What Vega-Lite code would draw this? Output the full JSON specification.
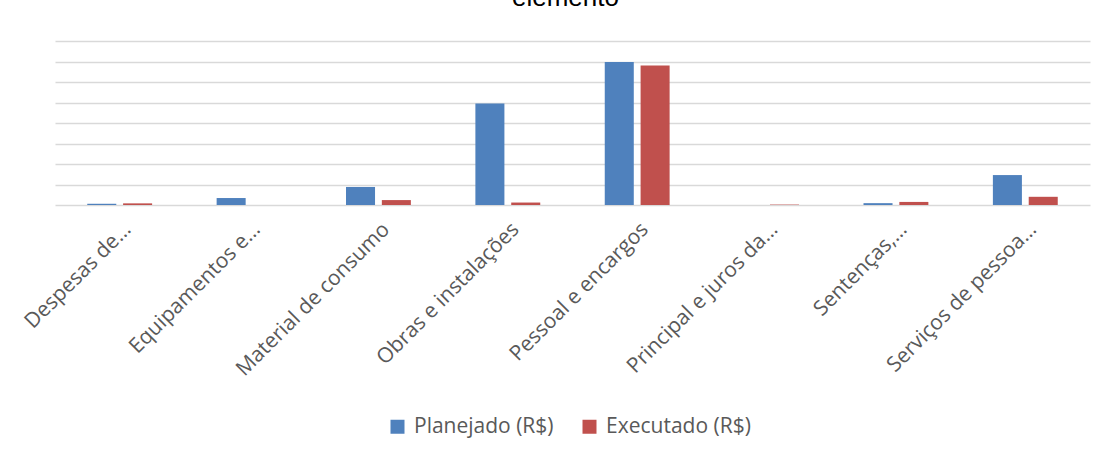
{
  "$schema": "https://vega.github.io/schema/vega-lite/v6.json",
  "width": 1035,
  "height": 164,
  "autosize": {"type": "none"},
  "padding": {"left": 55, "top": 41, "right": 17, "bottom": 253},
  "background": "white",
  "title": {
    "text": "elemento",
    "anchor": "middle",
    "frame": "group",
    "font": "Liberation Sans",
    "fontSize": 26,
    "fontWeight": "normal",
    "color": "#000000",
    "baseline": "alphabetic",
    "offset": 9,
    "dx": -7
  },
  "data": {
    "values": [
      {"categoria": "Despesas de…", "serie": "Planejado (R$)", "valor": 0.06},
      {"categoria": "Despesas de…", "serie": "Executado (R$)", "valor": 0.08},
      {"categoria": "Equipamentos e…", "serie": "Planejado (R$)", "valor": 0.34},
      {"categoria": "Equipamentos e…", "serie": "Executado (R$)", "valor": 0},
      {"categoria": "Material de consumo", "serie": "Planejado (R$)", "valor": 0.88},
      {"categoria": "Material de consumo", "serie": "Executado (R$)", "valor": 0.24},
      {"categoria": "Obras e instalações", "serie": "Planejado (R$)", "valor": 4.95},
      {"categoria": "Obras e instalações", "serie": "Executado (R$)", "valor": 0.12},
      {"categoria": "Pessoal e encargos", "serie": "Planejado (R$)", "valor": 6.98},
      {"categoria": "Pessoal e encargos", "serie": "Executado (R$)", "valor": 6.8},
      {"categoria": "Principal e juros da…", "serie": "Planejado (R$)", "valor": 0},
      {"categoria": "Principal e juros da…", "serie": "Executado (R$)", "valor": 0.02},
      {"categoria": "Sentenças,…", "serie": "Planejado (R$)", "valor": 0.09},
      {"categoria": "Sentenças,…", "serie": "Executado (R$)", "valor": 0.15},
      {"categoria": "Serviços de pessoa…", "serie": "Planejado (R$)", "valor": 1.46},
      {"categoria": "Serviços de pessoa…", "serie": "Executado (R$)", "valor": 0.4}
    ]
  },
  "mark": {"type": "bar"},
  "encoding": {
    "x": {
      "field": "categoria",
      "type": "nominal",
      "sort": null,
      "scale": {"paddingInner": 0, "paddingOuter": 0},
      "axis": {
        "title": null,
        "labelAngle": -45,
        "labelAlign": "right",
        "labelBaseline": "middle",
        "labelFont": "Open Sans",
        "labelFontSize": 21,
        "labelColor": "#595959",
        "labelPadding": 21,
        "labelOffset": 8,
        "labelLimit": 0,
        "ticks": false,
        "domain": false,
        "grid": false
      }
    },
    "xOffset": {
      "field": "serie",
      "type": "nominal",
      "sort": ["Planejado (R$)", "Executado (R$)"],
      "scale": {"paddingInner": 0.19, "paddingOuter": 0.9}
    },
    "y": {
      "field": "valor",
      "type": "quantitative",
      "scale": {"domain": [0, 8], "nice": false},
      "axis": {
        "title": null,
        "labels": false,
        "ticks": false,
        "domain": false,
        "grid": true,
        "gridColor": "#D9D9D9",
        "gridWidth": 1.3,
        "values": [0, 1, 2, 3, 4, 5, 6, 7, 8]
      }
    },
    "color": {
      "field": "serie",
      "type": "nominal",
      "scale": {"domain": ["Planejado (R$)", "Executado (R$)"], "range": ["#4F81BD", "#C0504D"]},
      "legend": {
        "title": null,
        "orient": "none",
        "legendX": 332,
        "legendY": 375,
        "direction": "horizontal",
        "symbolType": "square",
        "symbolSize": 196,
        "symbolStrokeWidth": 0,
        "labelFont": "Open Sans",
        "labelFontSize": 21,
        "labelColor": "#595959",
        "labelOffset": 6,
        "columnPadding": 25
      }
    }
  },
  "config": {"view": {"stroke": null}}
}
